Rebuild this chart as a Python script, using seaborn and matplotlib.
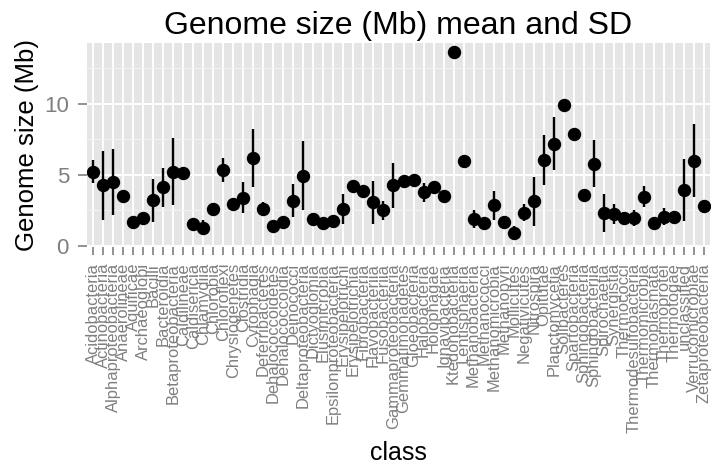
import numpy as np
import pandas as pd
import seaborn as sns
import matplotlib.pyplot as plt
from matplotlib.ticker import MultipleLocator

# genome size per class (Mb)
classes = ['Acidobacteria', 'Actinobacteria', 'Alphaproteobacteria', 'Anaerolineae', 'Aquificae',
           'Archaeoglobi', 'Bacilli', 'Bacteroidia', 'Betaproteobacteria', 'Caldilineae',
           'Caldisericia', 'Chlamydiia', 'Chlorobia', 'Chloroflexi', 'Chrysiogenetes',
           'Clostridia', 'Cytophagia', 'Deferribacteres', 'Dehalococcoidetes', 'Dehalococcoidia',
           'Deinococci', 'Deltaproteobacteria', 'Dictyoglomia', 'Elusimicrobia', 'Epsilonproteobacteria',
           'Erysipelotrichi', 'Erysipelotrichia', 'Fibrobacteria', 'Flavobacteriia', 'Fusobacteriia',
           'Gammaproteobacteria', 'Gemmatimonadetes', 'Gloeobacteria', 'Halobacteria', 'Holophagae',
           'Ignavibacteria', 'Ktedonobacteria', 'Lentisphaeria', 'Methanobacteria', 'Methanococci',
           'Methanomicrobia', 'Methanopyri', 'Mollicutes', 'Negativicutes', 'Nitrospira',
           'Opitutae', 'Planctomycetia', 'Solibacteres', 'Spartobacteria', 'Sphingobacteria',
           'Sphingobacteriia', 'Spirochaetia', 'Synergistia', 'Thermococci', 'Thermodesulfobacteria',
           'Thermomicrobia', 'Thermoplasmata', 'Thermoprotei', 'Thermotogae', 'unclassified',
           'Verrucomicrobiae', 'Zetaproteobacteria']

mean_mb = [5.23, 4.28, 4.49, 3.50, 1.68,
           1.94, 3.22, 4.11, 5.21, 5.14,
           1.54, 1.29, 2.59, 5.33, 2.92,
           3.39, 6.19, 2.62, 1.38, 1.68,
           3.18, 4.95, 1.89, 1.61, 1.75,
           2.62, 4.23, 3.83, 3.08, 2.50,
           4.25, 4.60, 4.65, 3.76, 4.14,
           3.48, 13.62, 6.00, 1.89, 1.64,
           2.85, 1.68, 0.93, 2.34, 3.13,
           6.03, 7.18, 9.95, 7.85, 3.55,
           5.79, 2.29, 2.24, 1.96, 1.96,
           3.46, 1.61, 2.06, 2.06, 3.93,
           6.00, 2.83]

nan = np.nan
sd_mb = [0.84, 2.43, 2.30, nan, nan,
         nan, 1.52, 1.37, 2.36, nan,
         nan, 0.55, 0.41, 0.84, nan,
         1.08, 2.07, 0.45, nan, nan,
         1.18, 2.40, nan, nan, nan,
         1.05, nan, nan, 1.52, 0.68,
         1.57, nan, nan, 0.67, nan,
         nan, nan, nan, 0.60, nan,
         1.03, nan, 0.45, 0.62, 1.73,
         1.75, 1.87, nan, nan, nan,
         1.65, 1.33, 0.68, nan, 0.56,
         0.72, nan, 0.60, nan, 2.15,
         2.57, nan]

df = pd.DataFrame({'class': classes, 'mean': mean_mb, 'sd': sd_mb})

sns.set_theme(style='darkgrid')
plt.rcParams['font.family'] = ['Liberation Sans', 'DejaVu Sans']

fig, ax = plt.subplots(figsize=(7.28, 4.70), dpi=100)
fig.subplots_adjust(left=87/728, right=710/728, top=1-42.7/470, bottom=1-247/470)

sns.pointplot(data=df, x='class', y='mean', errorbar=None, color='black',
              linestyle='none', markersize=7.6, ax=ax, zorder=3)
ax.errorbar(np.arange(len(df)), df['mean'], yerr=df['sd'], fmt='none',
            ecolor='black', elinewidth=1.7, capsize=0, zorder=2)

ax.set_facecolor('#E5E5E5')
ax.set_xlim(-0.6, len(df) - 0.4)
ax.set_ylim(-0.08, 14.3)
ax.yaxis.set_major_locator(MultipleLocator(5))
ax.yaxis.set_minor_locator(MultipleLocator(2.5))
ax.grid(True, which='major', color='white', linewidth=1.4)
ax.grid(True, which='minor', axis='y', color='#F2F2F2', linewidth=0.7)
ax.set_axisbelow(True)
for s in ax.spines.values():
    s.set_visible(False)

ax.tick_params(axis='x', which='major', rotation=90, labelsize=11.9, colors='#7F7F7F',
               length=5.5, width=1.2, pad=6, bottom=True)
ax.tick_params(axis='y', which='major', labelsize=16, colors='#7F7F7F',
               length=6.5, width=1.2, pad=6.5, left=True)
ax.tick_params(axis='y', which='minor', length=0)
for lab in ax.get_xticklabels():
    lab.set_color('#7F7F7F')

ax.set_title('Genome size (Mb) mean and SD', fontsize=23, color='black', pad=6)
ax.set_xlabel('class', fontsize=18, color='black')
ax.xaxis.set_label_coords(0.5, -0.95)
ax.set_ylabel('Genome size (Mb)', fontsize=18.5, color='black')
ax.yaxis.set_label_coords(-0.077, 0.5)

fig.savefig('out.png', dpi=100)
